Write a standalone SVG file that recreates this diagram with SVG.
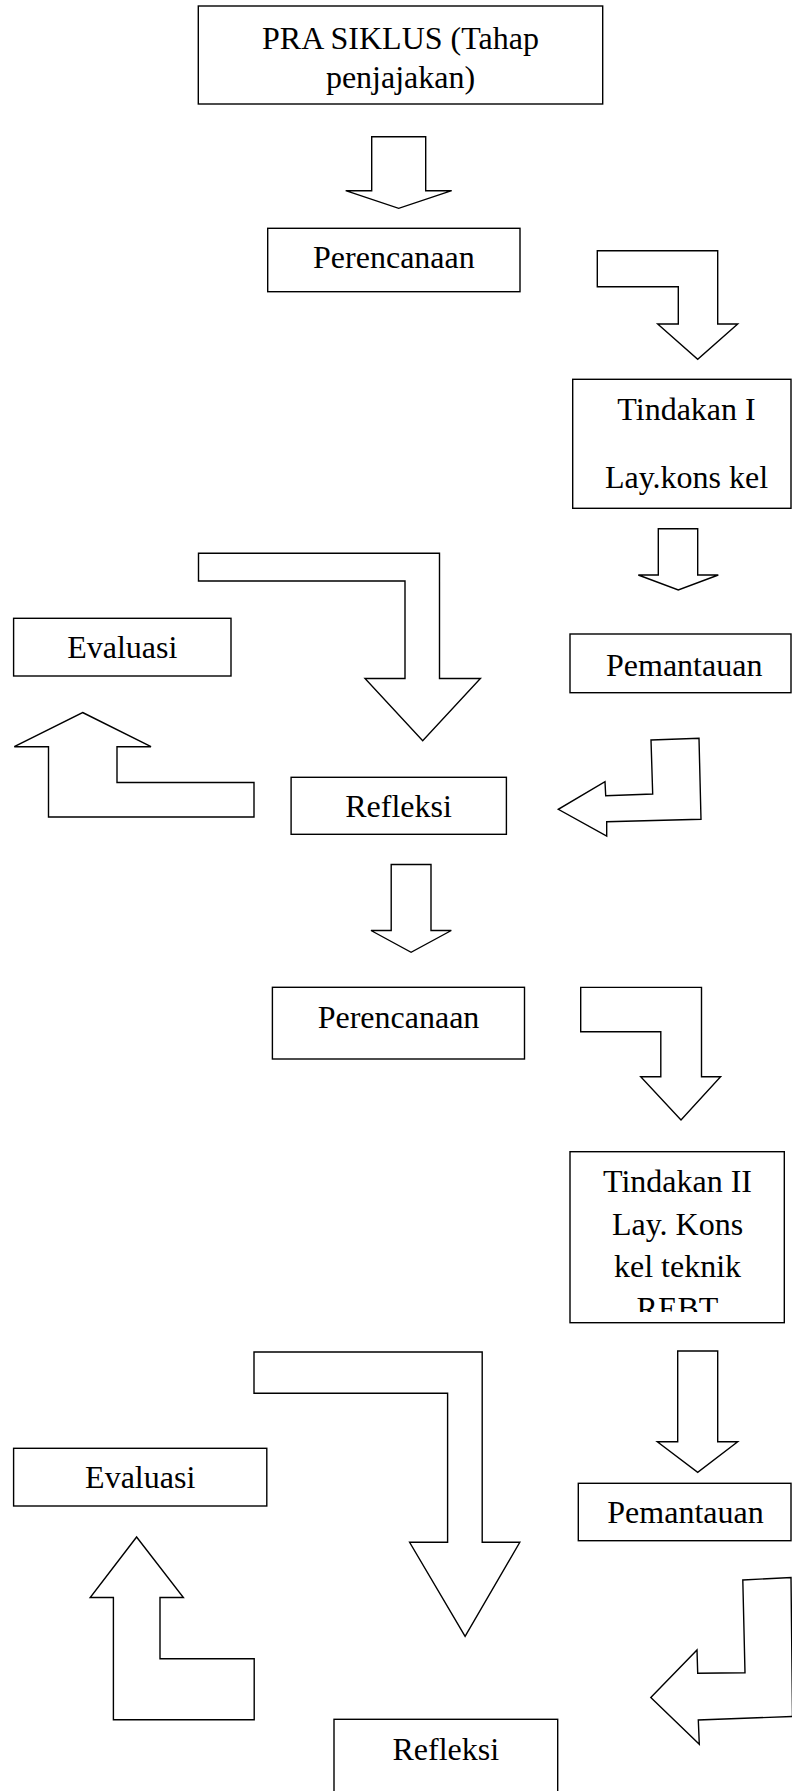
<svg xmlns="http://www.w3.org/2000/svg" width="792" height="1791" viewBox="0 0 792 1791">
<style>
.box{fill:#fff;stroke:#000;stroke-width:1.4}
.arr{fill:#fff;stroke:#000;stroke-width:1.4;stroke-linejoin:miter}
text{font-family:"Liberation Serif","Times New Roman",serif;font-size:32px;fill:#000;text-anchor:middle}
</style>
<defs>
<clipPath id="clipPra"><rect x="198" y="6" width="405" height="89"/></clipPath>
<clipPath id="clipT2"><rect x="570" y="1151" width="215" height="161"/></clipPath>
</defs>
<rect width="792" height="1791" fill="#fff"/>
<g id="connectors">
<polygon class="arr" points="371.7,136.7 425.7,136.7 425.7,190.7 451.7,190.7 398.7,208.3 345.7,190.7 371.7,190.7"/>
<polygon class="arr" points="597.3,250.7 717.7,250.7 717.7,324 737.7,324 697.7,359.3 657.7,324 678.3,324 678.3,286.7 597.3,286.7"/>
<polygon class="arr" points="658.3,528.8 697.7,528.8 697.7,575 718.3,575 678.3,590 638.3,575 658.3,575"/>
<polygon class="arr" points="198.5,553.3 439.5,553.3 439.5,678.5 480.4,678.5 422.7,740.7 365,678.5 405,678.5 405,581 198.5,581"/>
<polygon class="arr" points="82.6,712.5 151,746.7 117,746.7 117,782.5 254,782.5 254,817 48.5,817 48.5,746.7 14.3,746.7"/>
<polygon class="arr" points="651,740 699,738.3 701,819.3 606.7,821.7 606.7,836 558.3,809.3 605,781.7 605.7,795.7 652.7,794"/>
<polygon class="arr" points="391.2,864.5 431,864.5 431,930.5 451.3,930.5 411.1,952.3 371,930.5 391.2,930.5"/>
<polygon class="arr" points="580.7,987.4 701.5,987.4 701.5,1076.7 720.6,1076.7 681,1120 640.7,1076.7 660.8,1076.7 660.8,1031.7 580.7,1031.7"/>
<polygon class="arr" points="677.7,1351 717.7,1351 717.7,1441.7 737.7,1441.7 697.7,1472.3 657.3,1441.7 677.7,1441.7"/>
<polygon class="arr" points="254,1352 482.2,1352 482.2,1542.3 519.8,1542.3 465.1,1636.3 409.6,1542.3 447.6,1542.3 447.6,1393.3 254,1393.3"/>
<polygon class="arr" points="136.6,1537 183.4,1597.5 160,1597.5 160,1658.7 254.2,1658.7 254.2,1719.7 113.4,1719.7 113.4,1597.5 90.2,1597.5"/>
<polygon class="arr" points="742.8,1580 791,1577.5 792.5,1716.5 698.3,1720 699.3,1744.3 650.8,1697.5 697,1650 697.7,1673.3 745,1672.7"/>
</g>
<g id="pra">
<rect class="box" x="198.3" y="6" width="404.4" height="98"/>
<g clip-path="url(#clipPra)">
<text x="400.5" y="49.3">PRA SIKLUS (Tahap</text>
<text x="400.5" y="88">penjajakan)</text>
</g>
</g>
<g id="perencanaan1">
<rect class="box" x="267.7" y="228.3" width="252.3" height="63.4"/>
<text x="393.9" y="268.3">Perencanaan</text>
</g>
<g id="tindakan1">
<rect class="box" x="572.7" y="379.3" width="218.3" height="129"/>
<text x="686.5" y="420">Tindakan I</text>
<text x="686.5" y="488.3">Lay.kons kel</text>
</g>
<g id="pemantauan1">
<rect class="box" x="570" y="634" width="221" height="58.7"/>
<text x="684.2" y="676">Pemantauan</text>
</g>
<g id="evaluasi1">
<rect class="box" x="13.6" y="618.3" width="217.4" height="57.7"/>
<text x="122.3" y="658.3">Evaluasi</text>
</g>
<g id="refleksi1">
<rect class="box" x="291.1" y="777.3" width="215.3" height="57"/>
<text x="398.5" y="817.3">Refleksi</text>
</g>
<g id="perencanaan2">
<rect class="box" x="272.4" y="987.3" width="252.1" height="71.7"/>
<text x="398.5" y="1028.3">Perencanaan</text>
</g>
<g id="tindakan2">
<rect class="box" x="570" y="1151.7" width="214.3" height="171"/>
<g clip-path="url(#clipT2)">
<text x="677.5" y="1191.7">Tindakan II</text>
<text x="677.5" y="1234.7">Lay. Kons</text>
<text x="677.5" y="1276.7">kel teknik</text>
<text x="677.5" y="1318.7">REBT</text>
</g>
</g>
<g id="evaluasi2">
<rect class="box" x="13.6" y="1448.3" width="253.2" height="57.7"/>
<text x="140.2" y="1488.3">Evaluasi</text>
</g>
<g id="pemantauan2">
<rect class="box" x="578.3" y="1483.3" width="212.7" height="57.4"/>
<text x="685.5" y="1522.7">Pemantauan</text>
</g>
<g id="refleksi2">
<rect class="box" x="334" y="1719.3" width="223.7" height="90"/>
<text x="445.8" y="1760">Refleksi</text>
</g>
</svg>
